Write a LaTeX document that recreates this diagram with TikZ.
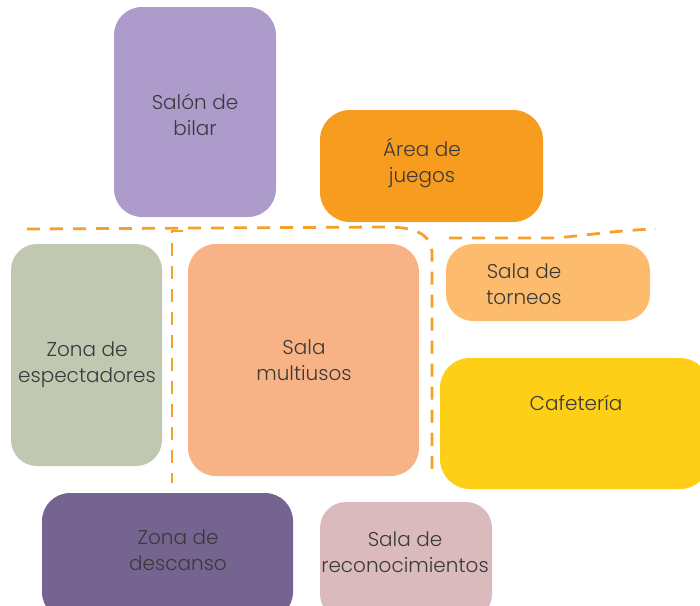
\documentclass[tikz,border=0pt]{standalone}
\usepackage{fontspec}
\setmainfont{Poppins}[UprightFont=* Light]
\definecolor{cSalon}{HTML}{AD9BCB}
\definecolor{cArea}{HTML}{F79C1F}
\definecolor{cZonaE}{HTML}{C0C8B2}
\definecolor{cMulti}{HTML}{F7B386}
\definecolor{cTorneo}{HTML}{FCBB6D}
\definecolor{cCafe}{HTML}{FDD017}
\definecolor{cDesc}{HTML}{75648F}
\definecolor{cRecon}{HTML}{DBBABD}
\definecolor{cDash}{HTML}{F7A027}
\definecolor{cText}{HTML}{3A3A3A}
\tikzset{
  room/.style={inner sep=0pt, outer sep=0pt, rounded corners=28pt},
  lbl/.style={align=center, text=cText, inner sep=0pt,
    font=\fontsize{20pt}{26pt}\selectfont},
  zone/.style={draw=cDash, line width=2.8pt, dash pattern=on 13pt off 10pt}
}
\begin{document}
\begin{tikzpicture}[x=1pt,y=-1pt]
\useasboundingbox (0,0) rectangle (700,605);
\clip (0,0) rectangle (700,605);
% rooms
\node[room, fill=cSalon, minimum width=162pt, minimum height=210pt] (salon) at (195,112) {};
\node[room, fill=cArea, minimum width=223pt, minimum height=112pt, rounded corners=30pt] (area) at (431.5,166) {};
\node[room, fill=cZonaE, minimum width=151pt, minimum height=222pt, rounded corners=26pt] (zonae) at (86.5,355) {};
\node[room, fill=cMulti, minimum width=231pt, minimum height=232pt] (multi) at (303.5,360) {};
\node[room, fill=cTorneo, minimum width=204pt, minimum height=77pt, rounded corners=27pt] (torneo) at (548,282.5) {};
\node[room, fill=cCafe, minimum width=270pt, minimum height=131pt, rounded corners=30pt] (cafe) at (575,423.5) {};
\node[room, fill=cDesc, minimum width=251pt, minimum height=127pt] (desc) at (167.5,556.5) {};
\node[room, fill=cRecon, minimum width=172pt, minimum height=118pt, rounded corners=26pt] (recon) at (406,561) {};
% labels
\node[lbl] (tsalon) at (195,115) {Salón de\\bilar};
\node[lbl] (tarea) at (422,163) {Área de\\juegos};
\node[lbl] (tzonae) at (87,365) {Zona de\\espectadores};
\node[lbl] (tmulti) at (304,360) {Sala\\multiusos};
\node[lbl] (ttorneo) at (524,284) {Sala de\\torneos};
\node[lbl] (tcafe) at (576,403) {Cafetería};
\node[lbl] (tdesc) at (178,550) {Zona de\\descanso};
\node[lbl] (trecon) at (405,552) {Sala de\\reconocimientos};
% dashed zone lines
\draw[zone] (27,229) -- (385,227) .. controls (412,227) and (430,232) .. (432,252) -- (432,477);
\draw[zone] (183,231) -- (172,231) -- (172,483);
\draw[zone] (449,238) -- (555,238) .. controls (590,235) and (620,230) .. (656,229);
\end{tikzpicture}
\end{document}
